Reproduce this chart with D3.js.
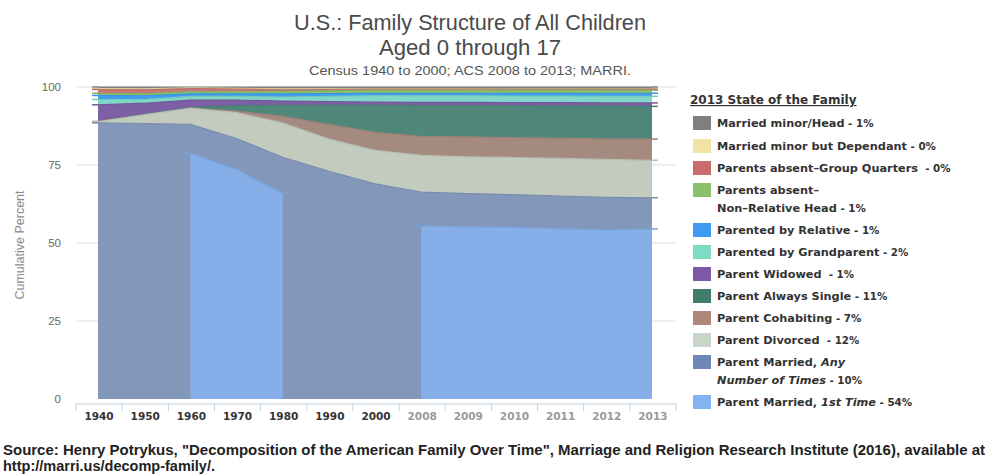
<!DOCTYPE html>
<html>
<head>
<meta charset="utf-8">
<script src="https://cdn.jsdelivr.net/npm/d3@7"></script>
<style>
  body { margin: 0; background: #fff; }
  svg { font-family: "Liberation Sans", Arial, sans-serif; }
</style>
</head>
<body>
<div id="chart"></div>
<script>
var years = ["1940", "1950", "1960", "1970", "1980", "1990", "2000",
             "2008", "2009", "2010", "2011", "2012", "2013"];

// shares per year (percent), bottom of the stack first
var firstTime     = [null, null, 78.8, 73.6, 65.9, null, null, 55.5, 55.2, 55.0, 54.6, 54.2, 54.5];
var marriedAny    = [88.5, 88.3, 9.2, 9.9, 11.6, 73.0, 69.0, 10.8, 10.6, 10.5, 10.4, 10.4, 10.0];
var divorced      = [0.4, 2.8, 5.2, 8.3, 11.0, 10.3, 10.7, 11.8, 11.8, 11.9, 12.1, 12.2, 12.0];
var cohabiting    = [0, 0, 0, 0.5, 2.1, 4.7, 5.8, 6.1, 6.4, 6.4, 6.5, 6.6, 6.8];
var alwaysSingle  = [0, 0.1, 0.3, 1.7, 3.5, 6.2, 8.7, 9.8, 10.0, 10.2, 10.3, 10.5, 10.5];
var widowed       = [5.4, 3.6, 2.3, 1.8, 1.4, 1.1, 1.0, 1.1, 1.1, 1.0, 1.1, 1.0, 1.1];
var grandparent   = [1.7, 1.2, 1.2, 1.2, 1.3, 1.7, 2.0, 2.1, 2.1, 2.1, 2.1, 2.1, 2.1];
var relative      = [1.3, 1.2, 0.8, 0.8, 1.0, 0.9, 0.8, 0.8, 0.8, 0.9, 0.9, 1.0, 1.0];
var nonRelative   = [0.7, 0.7, 0.7, 0.7, 0.8, 0.9, 1.0, 1.0, 1.0, 1.0, 1.0, 1.0, 1.0];
var groupQuarters = [1.2, 1.2, 1.0, 0.8, 0.5, 0.4, 0.3, 0.3, 0.3, 0.3, 0.3, 0.3, 0.3];
var dependant     = [0.3, 0.3, 0.2, 0.3, 0.3, 0.2, 0.1, 0.1, 0.1, 0.1, 0.1, 0.1, 0.1];
var head          = [0.5, 0.6, 0.3, 0.4, 0.6, 0.6, 0.6, 0.6, 0.6, 0.6, 0.6, 0.6, 0.6];

var seriesNames = ["firstTime", "marriedAny", "divorced", "cohabiting", "alwaysSingle", "widowed",
                   "grandparent", "relative", "nonRelative", "groupQuarters", "dependant", "head"];
var seriesValues = [firstTime, marriedAny, divorced, cohabiting, alwaysSingle, widowed,
                    grandparent, relative, nonRelative, groupQuarters, dependant, head];
var seriesColors = ["#86aee9", "#8297b9", "#c3cbbe", "#a58b7f", "#4f877b", "#7c5fa4",
                    "#7fd7c7", "#3f9ff0", "#8cbe6c", "#c97676", "#efe1a4", "#858585"];

var yTicks = [0, 25, 50, 75, 100];

// legend rows, top to bottom (lines of [text, italic] pieces)
var legendRows = [
    {color: "#7f7f7f", lines: [[["Married minor/Head", 0], [" - 1%", 0]]]},
    {color: "#f0e3a8", lines: [[["Married minor but Dependant", 0], [" - 0%", 0]]]},
    {color: "#cc6d6d", lines: [[["Parents absent\u2013Group Quarters", 0], ["  - 0%", 0]]]},
    {color: "#8cc06c", lines: [[["Parents absent\u2013", 0]], [["Non\u2013Relative Head", 0], [" - 1%", 0]]]},
    {color: "#3f9af0", lines: [[["Parented by Relative", 0], [" - 1%", 0]]]},
    {color: "#7fdcc4", lines: [[["Parented by Grandparent", 0], [" - 2%", 0]]]},
    {color: "#7e5aa6", lines: [[["Parent Widowed", 0], ["  - 1%", 0]]]},
    {color: "#3f7d6c", lines: [[["Parent Always Single", 0], [" - 11%", 0]]]},
    {color: "#b08678", lines: [[["Parent Cohabiting", 0], [" - 7%", 0]]]},
    {color: "#c8d6c8", lines: [[["Parent Divorced", 0], ["  - 12%", 0]]]},
    {color: "#6f86b8", lines: [[["Parent Married, ", 0], ["Any", 1]], [["Number of Times", 1], [" - 10%", 0]]]},
    {color: "#84b4f0", lines: [[["Parent Married, ", 0], ["1st Time", 1], [" - 54%", 0]]]}
];
var legendY = [123, 146, 168, 190, 230, 252, 274, 296, 318, 340, 362, 402];

var width = 990, height = 475;

var svg = d3.select("#chart").append("svg")
    .attr("width", width)
    .attr("height", height);

var x = d3.scalePoint()
    .domain(years)
    .range([75, 675])
    .padding(0.5);

var y = d3.scaleLinear()
    .domain([0, 100])
    .range([399, 87]);

// titles (squeezed to the narrow face of the original)
function title(txt, ty, size, len, color) {
    svg.append("text")
        .attr("x", 470 - len / 2).attr("y", ty)
        .attr("textLength", len)
        .attr("lengthAdjust", "spacingAndGlyphs")
        .style("font-size", size + "px")
        .style("fill", color)
        .text(txt);
}
title("U.S.: Family Structure of All Children", 30, 22, 352, "#4a4a4a");
title("Aged 0 through 17", 55, 22, 182, "#4a4a4a");
title("Census 1940 to 2000; ACS 2008 to 2013; MARRI.", 75, 13.5, 322, "#555");

// grid lines
svg.append("g").selectAll("line")
    .data(yTicks.slice(1))
    .enter().append("line")
    .attr("x1", 77).attr("x2", 676)
    .attr("y1", function (d) { return y(d); })
    .attr("y2", function (d) { return y(d); })
    .style("stroke", "#dcdcdc")
    .style("stroke-width", 1);

// y tick labels
svg.append("g").selectAll("text")
    .data(yTicks)
    .enter().append("text")
    .attr("x", 61)
    .attr("y", function (d) { return y(d) + 4; })
    .attr("text-anchor", "end")
    .style("font-size", "11.5px")
    .style("fill", "#666")
    .text(function (d) { return d; });

svg.append("text")
    .attr("transform", "translate(24,245) rotate(-90)")
    .attr("text-anchor", "middle")
    .style("font-size", "12.5px")
    .style("fill", "#8a8a8a")
    .text("Cumulative Percent");

// stacked totals (null counted as 0 so the married band holds all married)
var table = years.map(function (yr, i) {
    var row = {year: yr};
    seriesNames.forEach(function (name, k) {
        row[name] = seriesValues[k][i] == null ? 0 : seriesValues[k][i];
    });
    return row;
});
var stacked = d3.stack().keys(seriesNames)(table);

// each series is drawn from 0 up to its cumulative top, top series first
var area = d3.area()
    .x(function (d) { return x(d.data.year); })
    .y0(y(0))
    .y1(function (d) { return y(d[1]); });

var line = d3.line()
    .x(function (d) { return x(d.data.year); })
    .y(function (d) { return y(d[1]); });

var plot = svg.append("g");

for (var k = seriesNames.length - 1; k >= 0; k--) {
    var vals = seriesValues[k];
    var defined = function (d, i) { return vals[i] != null; };
    area.defined(defined);
    line.defined(defined);
    var col = seriesColors[k];
    var edge = d3.color(col).darker(0.2);
    plot.append("path")
        .datum(stacked[k])
        .attr("d", area)
        .style("fill", col);
    plot.append("path")
        .datum(stacked[k])
        .attr("d", line)
        .style("fill", "none")
        .style("stroke", edge)
        .style("stroke-width", 1.2);
    // little end caps where each segment starts and stops
    stacked[k].forEach(function (d, i) {
        if (vals[i] == null) return;
        var prev = i > 0 && vals[i - 1] != null;
        var next = i < years.length - 1 && vals[i + 1] != null;
        if (!prev) {
            plot.append("line")
                .attr("x1", x(d.data.year) - 6).attr("x2", x(d.data.year))
                .attr("y1", y(d[1])).attr("y2", y(d[1]))
                .style("stroke", edge).style("stroke-width", 1.5);
        }
        if (!next) {
            plot.append("line")
                .attr("x1", x(d.data.year)).attr("x2", x(d.data.year) + 6)
                .attr("y1", y(d[1])).attr("y2", y(d[1]))
                .style("stroke", edge).style("stroke-width", 1.5);
        }
    });
}

// x axis
var step = x.step();
svg.append("line")
    .attr("x1", 76).attr("x2", 676)
    .attr("y1", 404).attr("y2", 404)
    .style("stroke", "#c0d0e0");
svg.append("g").selectAll("line")
    .data(years.concat(["end"]))
    .enter().append("line")
    .attr("x1", function (d, i) { return 76 + i * step; })
    .attr("x2", function (d, i) { return 76 + i * step; })
    .attr("y1", 404).attr("y2", 411)
    .style("stroke", "#c0d0e0");
svg.append("g").selectAll("text")
    .data(years)
    .enter().append("text")
    .attr("x", function (d) { return x(d) + 1; })
    .attr("y", 420)
    .attr("text-anchor", "middle")
    .style("font-family", "'DejaVu Sans', sans-serif")
    .style("font-size", "10.5px")
    .style("font-weight", "bold")
    .style("fill", function (d) { return +d >= 2008 ? "#9a9a9a" : "#333"; })
    .text(function (d) { return d; });

// legend
svg.append("text")
    .attr("x", 690).attr("y", 104)
    .style("font-family", "'DejaVu Sans', sans-serif")
    .style("font-size", "12px")
    .style("font-weight", "bold")
    .style("text-decoration", "underline")
    .style("fill", "#333")
    .text("2013 State of the Family");

var leg = svg.append("g").selectAll("g")
    .data(legendRows)
    .enter().append("g")
    .attr("transform", function (d, i) { return "translate(0," + legendY[i] + ")"; });

leg.append("rect")
    .attr("x", 693).attr("y", -7)
    .attr("width", 18).attr("height", 14)
    .style("fill", function (d) { return d.color; });

leg.each(function (d) {
    var g = d3.select(this);
    d.lines.forEach(function (pieces, li) {
        var t = g.append("text")
            .attr("x", 717)
            .attr("y", 4 + li * 18)
            .style("font-family", "'DejaVu Sans', sans-serif")
            .style("font-size", "11.3px")
            .style("font-weight", "bold")
            .style("fill", "#333")
            .attr("xml:space", "preserve");
        pieces.forEach(function (p) {
            t.append("tspan")
                .style("font-style", p[1] ? "italic" : "normal")
                .style("font-size", p[0].indexOf("%") >= 0 ? "10.3px" : null)
                .text(p[0]);
        });
    });
});

// source note
svg.append("text")
    .attr("x", 3).attr("y", 455)
    .attr("textLength", 982)
    .attr("lengthAdjust", "spacingAndGlyphs")
    .style("font-size", "14px")
    .style("font-weight", "bold")
    .style("fill", "#222")
    .text("Source: Henry Potrykus, \"Decomposition of the American Family Over Time\", Marriage and Religion Research Institute (2016), available at");
svg.append("text")
    .attr("x", 3).attr("y", 471)
    .attr("textLength", 212)
    .attr("lengthAdjust", "spacingAndGlyphs")
    .style("font-size", "14px")
    .style("font-weight", "bold")
    .style("fill", "#222")
    .text("http://marri.us/decomp-family/.");
</script>
</body>
</html>
